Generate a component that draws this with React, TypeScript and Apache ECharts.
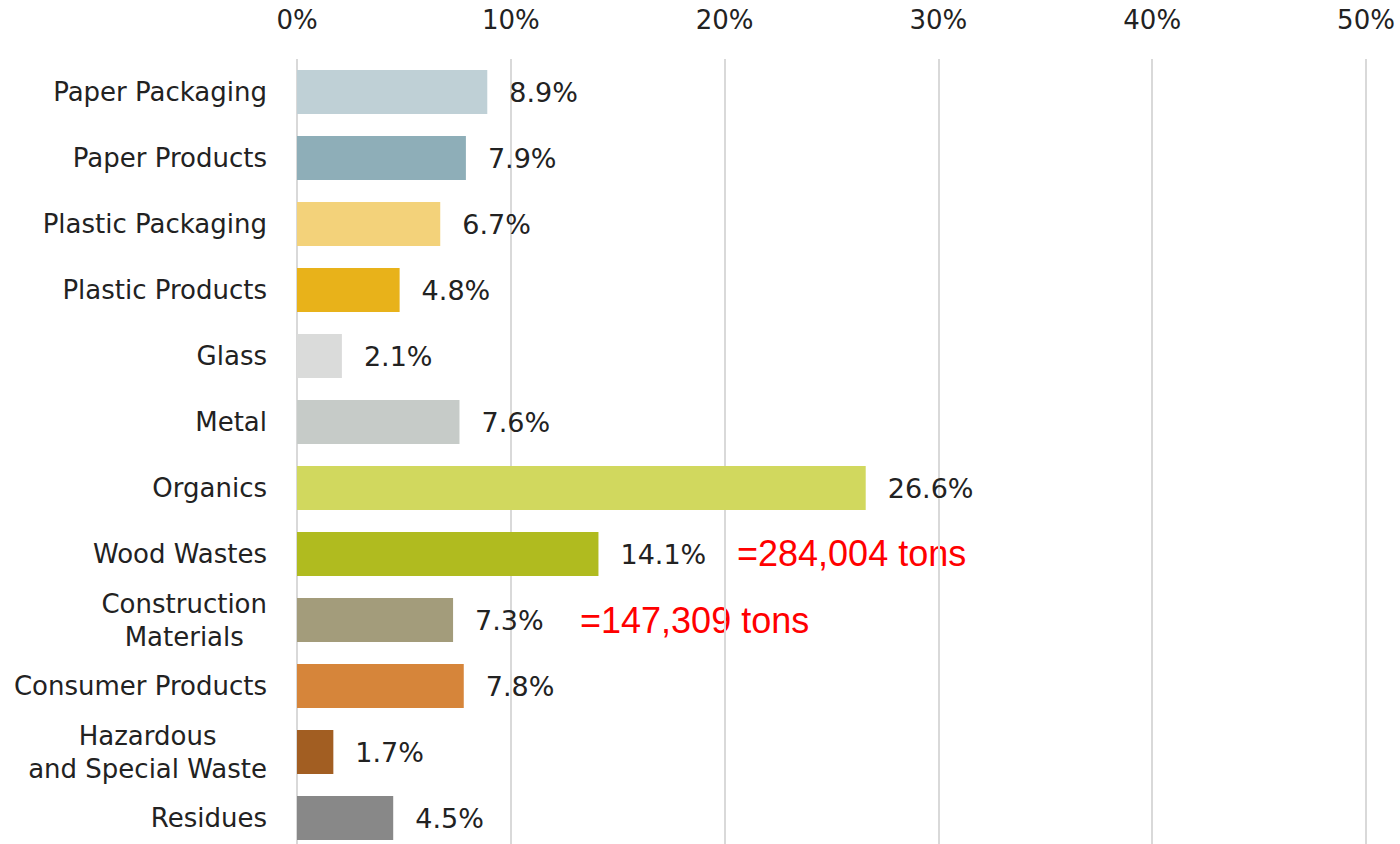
import React, { useEffect, useRef } from "react";
import * as echarts from "echarts";

const categories = [
  "Paper Packaging",
  "Paper Products",
  "Plastic Packaging",
  "Plastic Products",
  "Glass",
  "Metal",
  "Organics",
  "Wood Wastes",
  "Construction\nMaterials",
  "Consumer Products",
  "Hazardous\nand Special Waste",
  "Residues",
];
const values = [8.9, 7.9, 6.7, 4.8, 2.1, 7.6, 26.6, 14.1, 7.3, 7.8, 1.7, 4.5];
const barColors = [
  "#bfd0d6",
  "#8eaeb8",
  "#f3d27a",
  "#e8b21a",
  "#dadbda",
  "#c6cbc8",
  "#d1d85e",
  "#b0bb1f",
  "#a39c7b",
  "#d6853a",
  "#a25e22",
  "#888888",
];
const annotations = [
  { text: "=284,004 tons", x: 737, y: 555 },
  { text: "=147,309 tons", x: 580, y: 622 },
];

export default function App() {
  const ref = useRef<HTMLDivElement>(null);
  useEffect(() => {
    if (!ref.current) return;
    const chart = echarts.init(ref.current, null, { renderer: "svg" });
    chart.setOption({
      animation: false,
      backgroundColor: "#ffffff",
      grid: { left: 297, right: 34, top: 59, height: 792 },
      xAxis: {
        type: "value",
        position: "top",
        min: 0,
        max: 50,
        interval: 10,
        axisLine: { show: false },
        axisTick: { show: false },
        axisLabel: {
          formatter: "{value}%",
          fontFamily: "DejaVu Sans",
          fontSize: 26,
          color: "#222222",
          margin: 26,
        },
        splitLine: { show: true, lineStyle: { color: "#d9d9d9", width: 2 } },
      },
      yAxis: {
        type: "category",
        inverse: true,
        data: categories,
        axisLine: { show: false },
        axisTick: { show: false },
        axisLabel: {
          margin: 30,
          formatter: (v: string) =>
            v
              .split("\n")
              .map((l) => `{c|${l}}`)
              .join("\n"),
          rich: {
            c: {
              align: "center",
              fontFamily: "DejaVu Sans",
              fontSize: 26,
              lineHeight: 33,
              color: "#222222",
            },
          },
        },
      },
      series: [
        {
          type: "bar",
          barWidth: 44,
          data: values.map((v, i) => ({
            value: v,
            itemStyle: { color: barColors[i] },
          })),
          label: {
            show: true,
            position: "right",
            distance: 22,
            formatter: (p: any) => `${p.value.toFixed(1)}%`,
            fontFamily: "DejaVu Sans",
            fontSize: 27,
            color: "#222222",
          },
        },
      ],
      graphic: annotations.map((a) => ({
        type: "text",
        left: a.x,
        top: a.y - 20,
        style: {
          text: a.text,
          fill: "#ff0000",
          font: "36px 'Liberation Sans'",
        },
      })),
    });
    return () => chart.dispose();
  }, []);
  return (
    <div
      style={{
        position: "absolute",
        left: 0,
        top: 0,
        width: 1400,
        height: 844,
        overflow: "hidden",
      }}
    >
      <div ref={ref} style={{ width: 1400, height: 860 }} />
    </div>
  );
}
